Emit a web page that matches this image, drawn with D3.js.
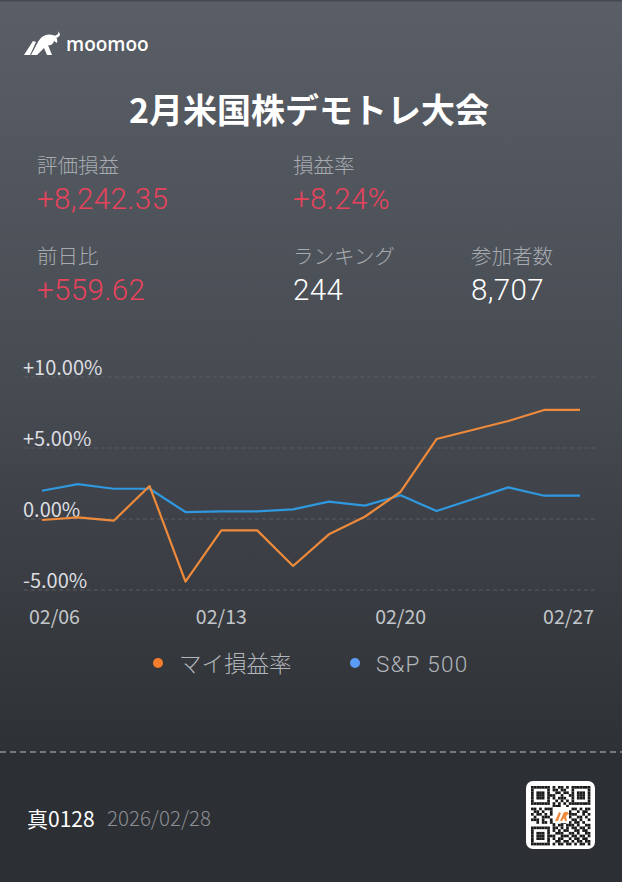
<!DOCTYPE html>
<html>
<head>
<meta charset="utf-8">
<script src="https://cdn.jsdelivr.net/npm/d3@7"></script>
<style>
  html, body { margin: 0; padding: 0; background: #2c2f33; }
  svg { display: block; }
</style>
</head>
<body>
<div id="card"></div>
<script>
// Chart data
const dates = ["02/06", "02/09", "02/10", "02/11", "02/12", "02/13", "02/16", "02/17",
               "02/18", "02/19", "02/20", "02/23", "02/24", "02/25", "02/26", "02/27"];
const myReturn = [-0.07, 0.12, -0.12, 2.32, -4.41, -0.80, -0.80, -3.31,
                  -1.08, 0.16, 1.92, 5.63, 6.27, 6.90, 7.68, 7.68];
const spReturn = [1.99, 2.46, 2.13, 2.13, 0.49, 0.54, 0.54, 0.68,
                  1.22, 0.94, 1.67, 0.56, 1.39, 2.23, 1.64, 1.64];
const yTicks = [10, 5, 0, -5];
const xTickLabels = ["02/06", "02/13", "02/20", "02/27"];
const seriesNames = ["マイ損益率", "S&P 500"];

const stats = [
    { label: "評価損益", value: "+8,242.35", red: true },
    { label: "損益率", value: "+8.24%", red: true },
    { label: "前日比", value: "+559.62", red: true },
    { label: "ランキング", value: "244", red: false },
    { label: "参加者数", value: "8,707", red: false }
];

const width = 622;
const height = 882;
const font = "'Noto Sans CJK JP', 'Noto Sans', sans-serif";

const svg = d3.select("#card")
    .append("svg")
    .attr("width", width)
    .attr("height", height)
    .style("font-family", font);

// Background gradient
const defs = svg.append("defs");
const grad = defs.append("linearGradient")
    .attr("id", "bg")
    .attr("x1", 0).attr("y1", 0).attr("x2", 0).attr("y2", 1);
grad.append("stop").attr("offset", "0%").attr("stop-color", "#5a5e66");
grad.append("stop").attr("offset", "45%").attr("stop-color", "#464a51");
grad.append("stop").attr("offset", "85%").attr("stop-color", "#2e3135");
grad.append("stop").attr("offset", "100%").attr("stop-color", "#2c2f33");

svg.append("rect")
    .attr("width", width)
    .attr("height", height)
    .attr("fill", "url(#bg)");
svg.append("rect")
    .attr("width", width)
    .attr("height", 1.5)
    .attr("fill", "#45484e");

// Logo
const logo = svg.append("g").attr("transform", "translate(24,33)");
logo.append("path")
    .attr("d", "M0,22 L9,8 L12,9 L6,22 Z M7,22 L14,9 C17,3 23,0 29,2 C32,3 34,6 33,10 L30,8 C29,11 27,13 24,12 L28,22 L23,22 L20,15 L13,22 Z")
    .attr("fill", "#ffffff");
logo.append("path")
    .attr("d", "M30,3 C34,2 35,0 34,-2 L36,1 C36,3 34,5 31,5 Z")
    .attr("fill", "#ffffff");
svg.append("text")
    .attr("x", 66)
    .attr("y", 51)
    .attr("fill", "#ffffff")
    .attr("font-size", 19)
    .attr("font-weight", 600)
    .attr("font-family", "'Open Sans', sans-serif")
    .text("moomoo");

// Title
svg.append("text")
    .attr("x", width / 2 - 2)
    .attr("y", 123)
    .attr("text-anchor", "middle")
    .attr("fill", "#ffffff")
    .attr("font-size", 34)
    .attr("font-weight", 700)
    .text("2月米国株デモトレ大会");

// Stats grid
const colX = [37, 293, 471];
const slots = [[0, 0], [1, 0], [0, 1], [1, 1], [2, 1]];
stats.forEach((s, i) => {
    const [c, r] = slots[i];
    const x = colX[c];
    const y0 = 173 + r * 91;
    svg.append("text")
        .attr("x", x).attr("y", y0)
        .attr("fill", "#a7abb1")
        .attr("font-size", 20.5)
        .attr("font-weight", 300)
        .text(s.label);
    svg.append("text")
        .attr("x", x).attr("y", y0 + 36)
        .attr("fill", s.red ? "#e8435c" : "#ffffff")
        .attr("font-size", 29.5)
        .attr("font-weight", 300)
        .attr("letter-spacing", 0.4)
        .attr("font-family", "Roboto, 'Noto Sans', sans-serif")
        .text(s.value);
});

// Chart scales
const x = d3.scalePoint()
    .domain(dates)
    .range([42, 580]);
const y = d3.scaleLinear()
    .domain([-5, 10])
    .range([590, 377]);

const chart = svg.append("g");

// Gridlines
chart.selectAll("line.grid")
    .data(yTicks)
    .enter()
    .append("line")
    .attr("class", "grid")
    .attr("x1", 24)
    .attr("x2", 596)
    .attr("y1", d => y(d))
    .attr("y2", d => y(d))
    .attr("stroke", "#585c63")
    .attr("stroke-width", 1)
    .attr("stroke-dasharray", "4,3");

// Y tick labels
const fmt = d3.format(".2f");
chart.selectAll("text.ylab")
    .data(yTicks)
    .enter()
    .append("text")
    .attr("class", "ylab")
    .attr("x", 23)
    .attr("y", d => y(d) - 2)
    .attr("fill", "#dcdee1")
    .attr("font-size", 20)
    .text(d => (d > 0 ? "+" : d < 0 ? "-" : "") + fmt(Math.abs(d)) + "%");

// X tick labels
chart.selectAll("text.xlab")
    .data(xTickLabels)
    .enter()
    .append("text")
    .attr("class", "xlab")
    .attr("x", (d, i) => i === 0 ? 29 : (i === xTickLabels.length - 1 ? 594 : x(d)))
    .attr("y", 624)
    .attr("text-anchor", (d, i) => i === 0 ? "start" : (i === xTickLabels.length - 1 ? "end" : "middle"))
    .attr("fill", "#c3c6ca")
    .attr("font-size", 19.5)
    .text(d => d);

// Lines
const line = d3.line()
    .x((d, i) => x(dates[i]))
    .y(d => y(d));

chart.append("path")
    .datum(spReturn)
    .attr("d", line)
    .attr("fill", "none")
    .attr("stroke", "#2f98de")
    .attr("stroke-width", 2.2)
    .attr("stroke-linejoin", "round");

chart.append("path")
    .datum(myReturn)
    .attr("d", line)
    .attr("fill", "none")
    .attr("stroke", "#ee8a3b")
    .attr("stroke-width", 2.2)
    .attr("stroke-linejoin", "round");

// Legend
const legendColors = ["#f47d2c", "#5b9cf6"];
const legendX = [158, 355];
seriesNames.forEach((name, i) => {
    svg.append("circle")
        .attr("cx", legendX[i])
        .attr("cy", 663)
        .attr("r", 5)
        .attr("fill", legendColors[i]);
    svg.append("text")
        .attr("x", legendX[i] + 21)
        .attr("y", 672)
        .attr("fill", "#b2b5ba")
        .attr("font-size", 22.5)
        .attr("font-weight", 300)
        .attr("letter-spacing", i === 1 ? 1.2 : 0)
        .attr("font-family", "Roboto, 'Noto Sans CJK JP', sans-serif")
        .text(name);
});

// Footer
svg.append("rect")
    .attr("y", 752)
    .attr("width", width)
    .attr("height", height - 752)
    .attr("fill", "#2c2f33");
svg.append("line")
    .attr("x1", 0).attr("x2", width)
    .attr("y1", 752).attr("y2", 752)
    .attr("stroke", "#8c8f94")
    .attr("stroke-width", 1.5)
    .attr("stroke-dasharray", "6,4");

svg.append("text")
    .attr("x", 27).attr("y", 827)
    .attr("fill", "#ffffff")
    .attr("font-size", 21)
    .text("真0128");
svg.append("text")
    .attr("x", 107).attr("y", 826)
    .attr("fill", "#8b8e93")
    .attr("font-size", 20.5)
    .attr("font-weight", 300)
    .text("2026/02/28");

// QR code (decorative)
const qr = svg.append("g").attr("transform", "translate(526,781)");
qr.append("rect")
    .attr("width", 69).attr("height", 68)
    .attr("rx", 7)
    .attr("fill", "#ffffff");
const qrRows = [
    "1111111010110101111111",
    "1000001011011001000001",
    "1011101001101101011101",
    "1011101110010011011101",
    "1011101010111001011101",
    "1000001001010101000001",
    "1111111010101011111111",
    "0000000011100100000000",
    "1101011100110101101011",
    "0110100101000010010110",
    "1011010100000011100101",
    "0100111000000010011010",
    "1110100100000101101001",
    "0010110110011010110100",
    "0000000010110111010011",
    "1111111011010101101101",
    "1000001010101100110110",
    "1011101001110011010011",
    "1011101110011101101101",
    "1011101010110010110110",
    "1000001001101101011011",
    "1111111010110110101101"
];
const cell = 2.7;
qrRows.forEach((row, r) => {
    row.split("").forEach((b, c) => {
        if (b === "1") {
            qr.append("rect")
                .attr("x", 5 + c * cell)
                .attr("y", 5 + r * cell)
                .attr("width", cell)
                .attr("height", cell)
                .attr("fill", "#1a1a1a");
        }
    });
});
qr.append("rect")
    .attr("x", 27).attr("y", 26)
    .attr("width", 16).attr("height", 16)
    .attr("fill", "#ffffff");
qr.append("path")
    .attr("d", "M29,40 L33,31 L35,32 L32,40 Z M34,40 L37,33 C38,30 42,30 43,33 L41,34 L40,36 L41,40 L39,40 L38,37 L36,40 Z")
    .attr("fill", "#f08a3c");
</script>
</body>
</html>
